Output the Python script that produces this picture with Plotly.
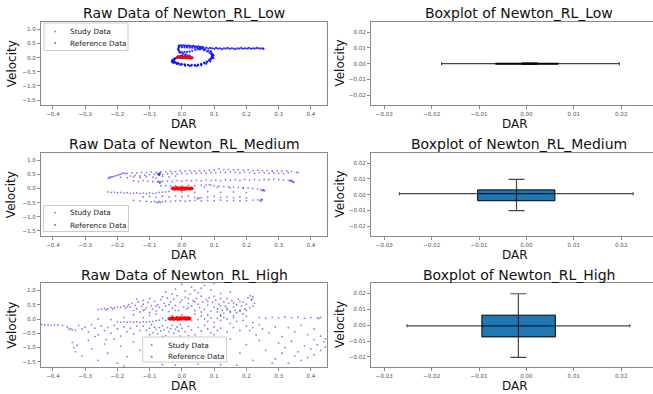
import plotly.graph_objects as go

# ---------------- DATA ----------------
levels = ["Low", "Medium", "High"]

# Raw data, Low: study (red) and reference (blue) points (DAR, Velocity)
low_study_x = [-0.013, -0.010, -0.008, -0.006, -0.004, -0.002, 0.000, 0.002, 0.004, 0.006, 0.008,
               0.010, 0.012, 0.014, 0.016, 0.018, 0.020, 0.022, 0.024, 0.026, 0.028, 0.030, 0.032,
               -0.009, -0.005, -0.001, 0.003, 0.007, 0.011, 0.015, 0.019, 0.023, 0.027]
low_study_y = [0.030, 0.028, 0.026, 0.025, 0.022, 0.020, 0.018, 0.016, 0.014, 0.012, 0.011,
               0.009, 0.008, 0.006, 0.005, 0.004, 0.002, 0.001, 0.000, -0.001, -0.002, -0.003, -0.004,
               0.012, 0.010, 0.008, 0.005, 0.003, 0.000, -0.002, -0.005, -0.008, -0.010]

low_ref_points = [
    (0.060, 0.31), (0.072, 0.28), (0.082, 0.24), (0.089, 0.19), (0.094, 0.14), (0.096, 0.09), (0.096, 0.04),
    (0.094, -0.01), (0.090, -0.06), (0.085, -0.11), (0.078, -0.16), (0.070, -0.20), (0.060, -0.24),
    (0.050, -0.27), (0.040, -0.28), (0.030, -0.28), (0.020, -0.27), (0.010, -0.26), (0.000, -0.24),
    (-0.010, -0.22), (-0.018, -0.20), (-0.024, -0.17), (-0.028, -0.14), (-0.029, -0.10), (-0.027, -0.06),
    (-0.022, -0.03), (-0.016, 0.00), (-0.010, 0.03), (-0.004, 0.06),
    (0.002, 0.08), (0.010, 0.075), (0.018, 0.07), (0.024, 0.07), (0.012, 0.11), (0.004, 0.14),
    (-0.004, 0.17), (-0.008, 0.19), (0.000, 0.195), (0.008, 0.20), (0.016, 0.20), (0.024, 0.21),
    (0.032, 0.24), (0.042, 0.27), (0.050, 0.30),
    (0.055, 0.29), (0.068, 0.26), (0.078, 0.22), (0.086, 0.17), (0.091, 0.12), (0.093, 0.06), (0.092, 0.01),
    (0.089, -0.04), (0.084, -0.09), (0.077, -0.14), (0.069, -0.18), (0.060, -0.22), (0.050, -0.25),
    (0.040, -0.26), (0.030, -0.26), (0.019, -0.255), (0.008, -0.24), (-0.002, -0.22), (-0.012, -0.19),
    (-0.020, -0.16), (-0.025, -0.12), (-0.025, -0.08), (-0.021, -0.04), (-0.014, -0.01), (-0.007, 0.02),
    (0.000, 0.05),
    (-0.030, -0.16), (-0.031, -0.12), (-0.026, -0.19), (-0.015, -0.23), (-0.005, -0.26), (0.010, -0.29),
    (0.025, -0.30), (0.045, -0.30), (0.060, -0.27), (0.075, -0.22), (0.088, -0.14), (0.098, -0.02),
    (0.098, 0.08), (0.090, 0.22),
    (-0.010, 0.42), (-0.005, 0.43), (0.000, 0.42), (0.005, 0.43), (0.010, 0.42), (0.015, 0.41),
    (0.020, 0.42), (0.025, 0.41), (0.030, 0.40), (0.035, 0.41), (0.040, 0.40), (0.045, 0.39),
    (0.050, 0.40), (0.055, 0.38), (0.060, 0.38), (0.065, 0.37),
    (-0.008, 0.38), (0.000, 0.37), (0.008, 0.36), (0.016, 0.36), (0.024, 0.35), (0.032, 0.35),
    (0.040, 0.34), (0.048, 0.34), (0.056, 0.34), (0.064, 0.33),
    (-0.010, 0.35), (-0.012, 0.31), (-0.011, 0.27), (-0.008, 0.23),
    (0.070, 0.33), (0.076, 0.35), (0.082, 0.32), (0.088, 0.34), (0.094, 0.33), (0.100, 0.31),
    (0.106, 0.34), (0.112, 0.32), (0.118, 0.33), (0.124, 0.30), (0.130, 0.33), (0.136, 0.32),
    (0.142, 0.34), (0.148, 0.31), (0.154, 0.33), (0.160, 0.32), (0.166, 0.30), (0.172, 0.33),
    (0.178, 0.32), (0.184, 0.34), (0.190, 0.31), (0.196, 0.33), (0.202, 0.32), (0.208, 0.34),
    (0.214, 0.31), (0.220, 0.33), (0.226, 0.32), (0.232, 0.34), (0.238, 0.33), (0.244, 0.32),
    (0.250, 0.33), (0.253, 0.31),
]

# Raw data, Medium
med_study_points = [
    (-0.030, 0.01), (-0.028, -0.02), (-0.026, 0.03), (-0.024, 0.00), (-0.022, -0.03), (-0.020, 0.02),
    (-0.018, -0.01), (-0.016, 0.04), (-0.014, 0.01), (-0.012, -0.03), (-0.010, 0.02), (-0.008, -0.01),
    (-0.006, 0.03), (-0.004, 0.00), (-0.002, -0.04), (0.000, 0.02), (0.002, -0.01), (0.004, 0.03),
    (0.006, 0.00), (0.008, -0.03), (0.010, 0.02), (0.012, -0.01), (0.014, 0.03), (0.016, 0.00),
    (0.018, -0.02), (0.020, 0.01), (0.022, -0.01), (0.024, 0.02), (0.026, -0.02), (0.028, 0.00),
    (0.030, -0.01), (-0.025, -0.01), (-0.015, 0.00), (-0.005, 0.01), (0.005, -0.02), (0.015, 0.01),
    (0.025, 0.00), (0.032, 0.01),
]
med_ref_points = [
    (-0.228, 0.36), (-0.225, 0.40), (-0.222, 0.38), (-0.218, 0.42), (-0.215, 0.41), (-0.210, 0.44),
    (-0.205, 0.45), (-0.200, 0.47), (-0.195, 0.49), (-0.190, 0.50), (-0.185, 0.53), (-0.180, 0.55),
    (-0.175, 0.52),
    (-0.170, 0.54), (-0.155, 0.56), (-0.140, 0.55), (-0.125, 0.57), (-0.110, 0.56), (-0.095, 0.58),
    (-0.080, 0.57), (-0.065, 0.60), (-0.050, 0.59), (-0.035, 0.61), (-0.020, 0.60), (-0.005, 0.62),
    (0.010, 0.61), (0.025, 0.63), (0.040, 0.62), (0.055, 0.64), (0.070, 0.63), (0.085, 0.65),
    (0.100, 0.66), (0.115, 0.70), (0.130, 0.67), (0.145, 0.68), (0.160, 0.66), (0.175, 0.67),
    (0.190, 0.65), (0.205, 0.66), (0.220, 0.64), (0.235, 0.65), (0.250, 0.63), (0.265, 0.64),
    (0.280, 0.62), (0.295, 0.63), (0.310, 0.61), (0.325, 0.62), (0.340, 0.60), (0.355, 0.58),
    (0.360, 0.56),
    (-0.160, 0.44), (-0.145, 0.46), (-0.130, 0.45), (-0.115, 0.47), (-0.100, 0.49), (-0.085, 0.50),
    (-0.075, 0.52), (-0.070, 0.48), (-0.068, 0.54), (-0.060, 0.50), (-0.045, 0.52), (-0.030, 0.53),
    (-0.015, 0.51), (0.000, 0.54), (0.015, 0.52), (0.030, 0.55), (0.045, 0.53), (0.060, 0.56),
    (0.075, 0.54), (0.090, 0.57), (0.105, 0.55), (0.120, 0.58), (0.135, 0.56), (0.150, 0.59),
    (0.165, 0.57), (0.180, 0.55), (0.195, 0.58), (0.210, 0.56), (0.225, 0.54), (0.240, 0.57),
    (0.255, 0.55), (0.270, 0.53), (0.285, 0.56), (0.300, 0.54), (0.315, 0.52), (0.330, 0.55),
    (-0.190, 0.40), (-0.170, 0.38), (-0.150, 0.41), (-0.130, 0.39), (-0.110, 0.42), (-0.090, 0.40),
    (-0.080, 0.37), (-0.060, 0.43), (-0.040, 0.41), (-0.020, 0.44),
    (-0.074, 0.51), (-0.071, 0.53), (-0.069, 0.49), (-0.072, 0.47), (-0.068, 0.55),
    (-0.150, 0.27), (-0.135, 0.25), (-0.120, 0.28), (-0.105, 0.26), (-0.090, 0.24), (-0.075, 0.23),
    (-0.070, 0.21), (-0.068, 0.19), (-0.066, 0.24), (-0.072, 0.26), (-0.060, 0.25), (-0.045, 0.27),
    (-0.030, 0.25), (-0.015, 0.28), (0.000, 0.26), (0.015, 0.29), (0.030, 0.27), (0.045, 0.29),
    (0.060, 0.27), (0.075, 0.30), (0.090, 0.28), (0.105, 0.30), (0.120, 0.28), (0.135, 0.31),
    (0.150, 0.29), (0.165, 0.31), (0.180, 0.29), (0.195, 0.32), (0.210, 0.30), (0.225, 0.32),
    (0.240, 0.30), (0.255, 0.32), (0.270, 0.31), (0.285, 0.33), (0.300, 0.31), (0.315, 0.30),
    (0.330, 0.29), (0.338, 0.27), (0.342, 0.25), (0.345, 0.23), (0.335, 0.28), (0.340, 0.30),
    (0.347, 0.22),
    (-0.065, 0.10), (-0.050, 0.11), (-0.035, 0.09), (-0.020, 0.10), (0.000, 0.09), (0.020, 0.11),
    (0.040, 0.10), (0.060, 0.12), (0.075, 0.13), (0.085, 0.14), (0.090, 0.12), (0.100, 0.10),
    (0.115, 0.08), (0.130, 0.07), (0.145, 0.06), (0.160, 0.05), (0.175, 0.04), (0.190, 0.03),
    (0.205, 0.02), (0.220, 0.00), (0.235, -0.02), (0.245, -0.04), (0.252, -0.06), (0.256, -0.08),
    (0.250, -0.07), (0.254, -0.05),
    (0.030, 0.05), (0.070, 0.06), (0.110, 0.04), (0.150, 0.03), (0.190, 0.02),
    (-0.230, -0.12), (-0.220, -0.14), (-0.210, -0.13), (-0.200, -0.15), (-0.190, -0.14), (-0.180, -0.16),
    (-0.170, -0.15), (-0.160, -0.17), (-0.150, -0.16), (-0.140, -0.15), (-0.130, -0.17), (-0.120, -0.16),
    (-0.110, -0.18), (-0.100, -0.15), (-0.090, -0.17), (-0.080, -0.16), (-0.070, -0.14), (-0.060, -0.13),
    (-0.050, -0.12), (-0.040, -0.10),
    (0.000, -0.12), (0.040, -0.14), (0.080, -0.11), (0.120, -0.13), (0.160, -0.12), (0.200, -0.14),
    (-0.120, -0.30), (-0.100, -0.28), (-0.080, -0.31), (-0.060, -0.27), (-0.040, -0.30), (-0.020, -0.26),
    (0.000, -0.29), (0.020, -0.27), (0.040, -0.31), (0.050, -0.33), (0.055, -0.35), (0.048, -0.37),
    (0.060, -0.32), (0.080, -0.30), (0.100, -0.28), (0.120, -0.31), (0.140, -0.29), (0.160, -0.32),
    (0.180, -0.30), (0.200, -0.33),
    (-0.150, -0.42), (-0.130, -0.44), (-0.110, -0.45), (-0.095, -0.47), (-0.085, -0.46), (-0.078, -0.48),
    (-0.074, -0.50), (-0.070, -0.46), (-0.066, -0.49), (-0.060, -0.47), (-0.050, -0.45), (-0.035, -0.46),
    (-0.020, -0.44), (-0.005, -0.43), (0.010, -0.45), (0.025, -0.43), (0.040, -0.42), (0.060, -0.44),
    (0.080, -0.42), (0.100, -0.43), (0.120, -0.41), (0.140, -0.43), (0.160, -0.42), (0.180, -0.44),
    (0.200, -0.43), (0.220, -0.41), (0.235, -0.40), (0.242, -0.42), (0.246, -0.38), (0.245, -0.45),
    (0.250, -0.40),
]

# Raw data, High
high_study_points = [
    (-0.040, 0.02), (-0.037, -0.01), (-0.034, 0.03), (-0.031, 0.00), (-0.028, 0.04), (-0.025, -0.02),
    (-0.022, 0.03), (-0.019, 0.00), (-0.016, 0.05), (-0.013, -0.02), (-0.010, 0.03), (-0.007, 0.01),
    (-0.004, 0.05), (-0.001, -0.01), (0.002, 0.04), (0.005, 0.01), (0.008, 0.05), (0.011, -0.01),
    (0.014, 0.04), (0.017, 0.02), (0.020, 0.05), (0.023, 0.01), (0.025, 0.03), (-0.035, 0.01),
    (-0.026, 0.01), (-0.017, 0.02), (-0.008, -0.01), (0.001, 0.02), (0.010, 0.02), (0.019, 0.03),
    (-0.030, 0.05), (-0.012, 0.04), (0.006, 0.03), (0.016, -0.01), (0.022, 0.00),
]
high_ref_points = [
    (-0.160, 0.42), (-0.155, 0.55), (-0.150, 0.30), (-0.145, 0.48), (-0.140, 0.36), (-0.135, 0.60),
    (-0.130, 0.25), (-0.125, 0.44), (-0.120, 0.52), (-0.115, 0.33), (-0.110, 0.40), (-0.105, 0.58),
    (-0.100, 0.22), (-0.095, 0.47), (-0.090, 0.35), (-0.085, 0.62), (-0.080, 0.28), (-0.075, 0.50),
    (-0.070, 0.41), (-0.065, 0.68), (-0.060, 0.32), (-0.055, 0.55), (-0.050, 0.45), (-0.045, 0.74),
    (-0.040, 0.26), (-0.035, 0.60), (-0.030, 0.38), (-0.025, 0.70), (-0.020, 0.48), (-0.015, 0.82),
    (-0.010, 0.30), (-0.005, 0.58), (0.000, 0.66), (0.005, 0.42), (0.010, 0.76), (0.015, 0.35),
    (0.020, 0.55), (0.025, 0.88), (0.030, 0.46), (0.035, 0.64), (0.040, 0.30), (0.045, 0.72),
    (0.050, 0.52), (0.055, 0.40), (0.060, 0.80), (0.065, 0.60), (0.070, 0.34), (0.075, 0.68),
    (0.080, 0.48), (0.085, 0.75), (0.090, 0.28), (0.095, 0.58), (0.100, 0.42), (0.105, 0.66),
    (0.110, 0.36), (0.115, 0.52), (0.120, 0.72), (0.125, 0.30), (0.130, 0.60), (0.135, 0.45),
    (0.140, 0.38), (0.145, 0.56), (0.150, 0.24), (0.155, 0.64), (0.160, 0.42), (0.165, 0.32),
    (0.170, 0.50), (0.175, 0.70), (0.180, 0.28), (0.185, 0.46), (0.190, 0.60), (0.195, 0.36),
    (0.200, 0.52), (0.205, 0.74), (0.210, 0.40), (0.215, 0.66), (0.220, 0.78), (0.225, 0.55),
    (0.212, 0.82), (0.218, 0.70),
    (-0.140, 0.70), (-0.120, 0.65), (-0.100, 0.72), (-0.060, 0.78), (-0.020, 0.30), (0.020, 0.40),
    (0.060, 0.25), (0.100, 0.80), (0.140, 0.72), (0.180, 0.62), (0.200, 0.30), (0.040, 0.60),
    (0.080, 0.62), (-0.080, 0.45), (-0.040, 0.50), (0.120, 0.46), (0.160, 0.56), (0.020, 0.72),
    (-0.120, 0.30), (0.220, 0.45),
    (0.110, 0.25), (0.130, 0.20), (0.150, 0.28), (0.170, 0.22), (0.190, 0.18), (0.120, 0.15),
    (0.160, 0.12), (0.180, 0.30), (0.140, 0.32),
    (-0.030, 0.12), (0.000, 0.15), (0.040, 0.18), (0.080, 0.14), (0.120, 0.10), (0.160, 0.05),
    (0.200, 0.10), (-0.180, 0.05), (-0.220, -0.02), (-0.260, 0.00),
    (-0.050, 0.95), (-0.020, 1.05), (0.000, 1.22), (0.010, 0.98), (0.030, 1.12), (0.050, 0.92),
    (0.070, 1.18), (0.090, 1.02), (0.100, 1.25), (0.120, 0.90), (0.060, 1.08), (-0.030, 0.88),
    (0.150, 0.95), (0.040, 1.00),
    (-0.260, 0.33), (-0.250, 0.35), (-0.240, 0.37), (-0.230, 0.36), (-0.220, 0.40), (-0.210, 0.39),
    (-0.200, 0.42), (-0.190, 0.41), (-0.180, 0.45), (-0.170, 0.44), (-0.165, 0.50), (-0.175, 0.38),
    (-0.235, 0.32), (-0.215, 0.35),
    (-0.200, -0.10), (-0.190, -0.11), (-0.180, -0.10), (-0.170, -0.11), (-0.160, -0.10), (-0.150, -0.11),
    (-0.140, -0.10), (-0.130, -0.12), (-0.120, -0.10), (-0.110, -0.11), (-0.100, -0.09), (-0.090, -0.08),
    (-0.080, -0.06), (-0.070, -0.04), (-0.060, 0.02), (-0.050, -0.05), (-0.120, 0.05), (-0.100, 0.12),
    (-0.150, 0.15), (-0.080, 0.18), (0.030, -0.05), (0.050, -0.02), (0.070, 0.00), (0.090, 0.04),
    (0.110, 0.02), (0.130, 0.06), (0.060, 0.10), (0.080, -0.08), (0.100, -0.12), (0.120, -0.05),
    (0.140, 0.00),
    (-0.120, -0.25), (-0.110, -0.40), (-0.100, -0.32), (-0.090, -0.48), (-0.085, -0.28), (-0.080, -0.36),
    (-0.075, -0.52), (-0.070, -0.30), (-0.065, -0.42), (-0.060, -0.24), (-0.055, -0.38), (-0.050, -0.58),
    (-0.045, -0.30), (-0.040, -0.45), (-0.035, -0.34), (-0.030, -0.22), (-0.025, -0.50), (-0.020, -0.36),
    (-0.015, -0.28), (-0.010, -0.42), (-0.005, -0.60), (0.000, -0.32), (0.010, -0.45), (0.020, -0.26),
    (0.030, -0.38), (0.040, -0.55), (0.050, -0.30), (0.060, -0.42), (0.070, -0.22), (0.080, -0.35),
    (0.090, -0.48), (0.100, -0.28), (0.110, -0.40), (0.120, -0.32), (-0.095, -0.20), (-0.005, -0.20),
    (-0.100, -0.55), (-0.060, -0.62), (0.020, -0.58), (0.060, -0.65), (0.100, -0.55), (0.140, -0.45),
    (0.160, -0.30), (0.180, -0.40), (0.150, -0.15), (0.170, -0.08),
    (-0.435, -0.19), (-0.425, -0.21), (-0.415, -0.20), (-0.405, -0.22), (-0.395, -0.20), (-0.385, -0.21),
    (-0.370, -0.23), (-0.355, -0.28), (-0.345, -0.34), (-0.340, -0.38), (-0.350, -0.36), (-0.330, -0.40),
    (-0.320, -0.22), (-0.300, -0.28), (-0.290, -0.45), (-0.280, -0.20), (-0.270, -0.32), (-0.260, -0.55),
    (-0.250, -0.25), (-0.240, -0.40), (-0.230, -0.30), (-0.220, -0.50), (-0.210, -0.22), (-0.200, -0.35),
    (-0.190, -0.60), (-0.180, -0.28), (-0.170, -0.45), (-0.160, -0.32), (-0.150, -0.52), (-0.140, -0.24),
    (-0.130, -0.40), (-0.310, -0.35), (-0.270, -0.62), (-0.235, -0.72),
    (-0.340, -0.82), (-0.335, -1.00), (-0.330, -1.15), (-0.325, -0.92), (-0.310, -1.30), (-0.290, -0.75),
    (-0.280, -1.05), (-0.260, -1.45), (-0.240, -0.88), (-0.230, -1.20), (-0.210, -0.70), (-0.200, -1.55),
    (-0.190, -0.95), (-0.170, -1.32), (-0.150, -0.80), (-0.130, -1.10), (-0.110, -1.48), (-0.100, -0.85),
    (-0.080, -1.25), (-0.060, -1.60), (-0.180, -1.65), (-0.050, -1.00),
    (-0.020, -1.62), (0.020, -0.72), (0.050, -1.58), (0.080, -0.78), (0.120, -1.60), (0.150, -0.70),
    (0.180, -1.20), (0.200, -0.90), (0.220, -1.45), (0.240, -0.75), (0.260, -1.10), (0.280, -1.55),
    (0.170, -1.62),
    (0.240, 0.05), (0.260, 0.03), (0.280, 0.06), (0.300, 0.04), (0.320, 0.07), (0.340, 0.04),
    (0.360, 0.06), (0.380, 0.03), (0.400, 0.05), (0.420, 0.04), (0.430, 0.06), (0.425, 0.02),
    (0.200, -0.25), (0.210, -0.40), (0.220, -0.30), (0.230, -0.55), (0.240, -0.20), (0.250, -0.35),
    (0.270, -0.48), (0.290, -0.28), (0.310, -0.62), (0.330, -0.30), (0.350, -0.45), (0.370, -0.22),
    (0.390, -0.55), (0.410, -0.35), (0.430, -0.60), (0.220, -0.12), (0.190, -0.05),
    (0.300, -0.85), (0.320, -1.00), (0.340, -0.78), (0.360, -1.15), (0.380, -0.95), (0.400, -1.05),
    (0.420, -0.90), (0.440, -0.80), (0.445, -0.98), (0.430, -1.10), (0.410, -1.25), (0.390, -1.35),
    (0.370, -1.45), (0.350, -1.30), (0.330, -1.55), (0.310, -1.20), (0.290, -1.40), (0.410, -0.72),
    (0.445, -0.70),
]

# Boxplot summaries per level: DAR (x) and Velocity (y)
box_dar_q1 = [-0.0065, -0.0103, -0.0094]
box_dar_q3 = [0.0067, 0.0060, 0.0061]
box_vel_q1 = [-0.0003, -0.0039, -0.0074]
box_vel_q3 = [0.0003, 0.0030, 0.0063]
box_dar_center = [0.0007, -0.0021, -0.0017]
box_vel_center = [0.0000, 0.0006, -0.0004]
box_dar_lo = [-0.0179, -0.0268, -0.0252]
box_dar_hi = [0.0196, 0.0225, 0.0218]
box_vel_lo = [-0.0005, -0.0102, -0.0203]
box_vel_hi = [0.0005, 0.0097, 0.0198]

raw_xticks = [-0.4, -0.3, -0.2, -0.1, 0.0, 0.1, 0.2, 0.3, 0.4]
raw_yticks = [1.0, 0.5, 0.0, -0.5, -1.0, -1.5]
box_xticks = [-0.03, -0.02, -0.01, 0.00, 0.01, 0.02]
box_yticks = [0.02, 0.01, 0.00, -0.01, -0.02]

# ---------------- FIGURE ----------------
W, H = 653, 394
FONT = "DejaVu Sans"


def px(x):
    return x / W


def py(y):
    return 1 - y / H


rows_px = [(21.7, 105.4), (152.6, 236.3), (282.8, 367.2)]
left_px = (41, 327)
right_px = (371, 653)
title_y = [12.6, 143.6, 275.0]
xlabel_y = [124.4, 255.0, 385.6]
ref_marker_size = [2.3, 1.8, 1.8]
ref_marker_opacity = [0.8, 0.5, 0.5]

raw_sets = [
    (low_study_x, low_study_y, [p[0] for p in low_ref_points], [p[1] for p in low_ref_points]),
    ([p[0] for p in med_study_points], [p[1] for p in med_study_points],
     [p[0] for p in med_ref_points], [p[1] for p in med_ref_points]),
    ([p[0] for p in high_study_points], [p[1] for p in high_study_points],
     [p[0] for p in high_ref_points], [p[1] for p in high_ref_points]),
]

fig = go.Figure()
layout = dict(
    width=W, height=H, margin=dict(l=0, r=0, t=0, b=0),
    paper_bgcolor="white", plot_bgcolor="white",
    font=dict(family=FONT, color="#222"), showlegend=False,
)

axis_common = dict(showgrid=False, zeroline=False, showline=True, mirror=True,
                   linecolor="#8a8a8a", linewidth=1, ticks="outside", ticklen=3,
                   tickcolor="#8a8a8a", tickwidth=1,
                   tickfont=dict(family=FONT, size=5.6, color="#555"), fixedrange=True)

annotations = []
shapes = []

for i, lvl in enumerate(levels):
    top, bot = rows_px[i]
    ydom = [py(bot), py(top)]
    li = 2 * i + 1
    ri = 2 * i + 2
    lx = "x" if li == 1 else f"x{li}"
    ly = "y" if li == 1 else f"y{li}"
    rx, ry = f"x{ri}", f"y{ri}"

    layout["xaxis" if li == 1 else f"xaxis{li}"] = dict(
        axis_common, domain=[px(left_px[0]), px(left_px[1])], range=[-0.437, 0.45],
        tickvals=raw_xticks, tickformat=".1f", anchor=ly)
    layout["yaxis" if li == 1 else f"yaxis{li}"] = dict(
        axis_common, domain=ydom, range=[-1.69, 1.27],
        tickvals=raw_yticks, tickformat=".1f", anchor=lx)
    layout[f"xaxis{ri}"] = dict(
        axis_common, domain=[px(right_px[0]), px(right_px[1])], range=[-0.0328, 0.0267],
        tickvals=box_xticks, tickformat=".2f", anchor=ry)
    layout[f"yaxis{ri}"] = dict(
        axis_common, domain=ydom, range=[-0.0265, 0.0267],
        tickvals=box_yticks, tickformat=".2f", anchor=rx)

    sx, sy, rxv, ryv = raw_sets[i]
    fig.add_trace(go.Scatter(x=rxv, y=ryv, mode="markers", name="Reference Data",
                             marker=dict(color="blue", size=ref_marker_size[i],
                                         opacity=ref_marker_opacity[i], line=dict(width=0)),
                             xaxis=lx, yaxis=ly, hoverinfo="skip"))
    fig.add_trace(go.Scatter(x=sx, y=sy, mode="markers", name="Study Data",
                             marker=dict(color="red", size=3.0, opacity=0.85, line=dict(width=0)),
                             xaxis=lx, yaxis=ly, hoverinfo="skip"))

    # box (DAR IQR x Velocity IQR)
    q1x, q3x = box_dar_q1[i], box_dar_q3[i]
    q1y, q3y = box_vel_q1[i], box_vel_q3[i]
    fig.add_trace(go.Scatter(x=[q1x, q3x, q3x, q1x, q1x], y=[q1y, q1y, q3y, q3y, q1y],
                             mode="lines", fill="toself", fillcolor="#1f77b4",
                             line=dict(color="black", width=1), xaxis=rx, yaxis=ry,
                             hoverinfo="skip"))
    cx, cy = box_dar_center[i], box_vel_center[i]
    fig.add_trace(go.Scatter(
        x=[cx], y=[cy], mode="markers", marker=dict(size=1, opacity=0),
        error_x=dict(type="data", symmetric=False, array=[box_dar_hi[i] - cx],
                     arrayminus=[cx - box_dar_lo[i]], color="rgba(0,0,0,0.72)",
                     thickness=1.2, width=1.5),
        error_y=dict(type="data", symmetric=False, array=[box_vel_hi[i] - cy],
                     arrayminus=[cy - box_vel_lo[i]], color="rgba(0,0,0,0.72)",
                     thickness=1.2, width=8),
        xaxis=rx, yaxis=ry, hoverinfo="skip"))

    # titles and axis labels
    lc = (left_px[0] + left_px[1]) / 2
    rc = 518.5
    annotations.append(dict(text=f"Raw Data of Newton_RL_{lvl}", x=px(lc), y=py(title_y[i]),
                            xref="paper", yref="paper", showarrow=False, xanchor="center",
                            yanchor="middle", font=dict(size=14, family=FONT, color="#111")))
    annotations.append(dict(text=f"Boxplot of Newton_RL_{lvl}", x=px(rc), y=py(title_y[i]),
                            xref="paper", yref="paper", showarrow=False, xanchor="center",
                            yanchor="middle", font=dict(size=14, family=FONT, color="#111")))
    for cxp in (lc, 515):
        annotations.append(dict(text="DAR", x=px(cxp), y=py(xlabel_y[i]), xref="paper", yref="paper",
                                showarrow=False, xanchor="center", yanchor="middle",
                                font=dict(size=12, family=FONT, color="#111")))
    for vx in (11.7, 340):
        annotations.append(dict(text="Velocity", x=px(vx), y=py((top + bot) / 2), xref="paper",
                                yref="paper", showarrow=False, xanchor="center", yanchor="middle",
                                textangle=-90, font=dict(size=12, family=FONT, color="#111")))

# custom legends (box, swatch, labels) in pixel positions
legend_boxes = [(44, 23, 128, 50.5, 55, 68, 31.5, 43.0),
                (43.5, 205.5, 128.5, 231.5, 55, 68, 212.8, 225.0),
                (142.7, 337.0, 226.7, 362.0, 151.7, 165.7, 345.0, 356.7)]
for (x0, y0, x1, y1, mx, tx, e1, e2) in legend_boxes:
    shapes.append(dict(type="rect", xref="paper", yref="paper", x0=px(x0), x1=px(x1),
                       y0=py(y1), y1=py(y0), line=dict(color="#cccccc", width=1),
                       fillcolor="rgba(255,255,255,0.85)", layer="above"))
    for ey, col, lab in ((e1, "red", "Study Data"), (e2, "blue", "Reference Data")):
        shapes.append(dict(type="circle", xref="paper", yref="paper", x0=px(mx - 1), x1=px(mx + 1),
                           y0=py(ey + 1), y1=py(ey - 1), line=dict(width=0), fillcolor=col,
                           opacity=0.6, layer="above"))
        annotations.append(dict(text=lab, x=px(tx), y=py(ey), xref="paper", yref="paper",
                                showarrow=False, xanchor="left", yanchor="middle",
                                font=dict(size=7.3, family=FONT, color="#222")))

layout["annotations"] = annotations
layout["shapes"] = shapes
fig.update_layout(**layout)
fig.write_html("out.html", config={"displayModeBar": False},
               post_script="document.body.style.margin='0px';")
